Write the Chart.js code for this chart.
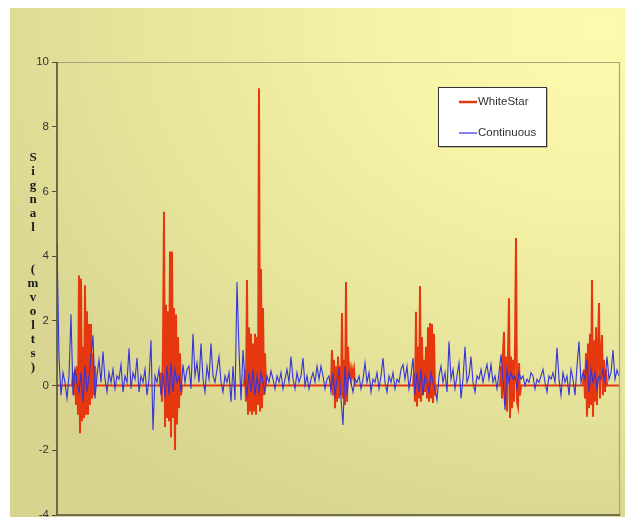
<!DOCTYPE html>
<html>
<head>
<meta charset="utf-8">
<script src="https://cdn.jsdelivr.net/npm/chart.js@4.4.1/dist/chart.umd.min.js"></script>
<style>
  html, body { margin: 0; padding: 0; background: #fff; }
  #panel {
    position: absolute; left: 10px; top: 8px; width: 615px; height: 509px;
    background: radial-gradient(ellipse 120% 110% at 96% 4%, #fdfaae 0%, #f6f3a6 30%, #e8e59c 60%, #dcd994 85%, #d8d48f 100%);
  }
  #miGrafico { position: absolute; left: 0; top: 0; }
</style>
</head>
<body>
<div id="panel"></div>
<canvas id="miGrafico" width="625" height="517"></canvas>
<script>
// Continuous: one reading every 2 time units, starting at t = 0
var continuousStep = 2;
var continuousValues = [
  4.4, 0.85, -0.3, 0.4, 0.1, -0.4, 0.3, 2.2, -0.3, 0.5, 0.1, -0.2, 0.4, -0.5, 0.6, -0.2, 0.3, 0.9, 1.55, -0.4,
  0.3, 0.8, 0.1, 1.05, 0.2, -0.2, 0.4, 0.1, 0.5, -0.1, 0.3, 0.2, 0.65, -0.2, 0.3, 0.1, 1.15, -0.1, 0.4, 0.2,
  0.85, -0.2, 0.3, 0.1, 0.5, -0.3, 0.2, 1.4, -1.37, 0.3, 0.1, 0.5, -0.3, 0.4, -0.4, 0.6, -0.3, 0.7, -0.2, 0.5,
  0.1, 0.3, -0.2, 0.65, 0.1, 0.5, 0.6, -0.1, 1.6, 0.3, 0.7, 0.1, 1.3, 0.2, -0.2, 0.6, 0.2, 1.3, 0.3, 0.1,
  0.5, 0.9, 0.1, -0.2, 0.3, 0.1, 0.4, -0.5, 0.6, -0.45, 3.2, 1.1, -0.45, 1.1, 0.2, -0.3, 0.4, -0.2, 0.5, -0.3,
  0.3, -0.2, 0.4, 0.1, -0.2, 0.3, 0.1, 0.45, 0.2, -0.1, 0.3, 0.1, 0.4, -0.1, 0.2, 0.5, 0.1, 0.9, 0.2, -0.1,
  0.4, 0.1, 0.3, 0.85, 0.0, 0.3, -0.1, 0.2, 0.4, 0.1, 0.6, 0.2, 0.6, 0.3, -0.1, 0.2, 0.3, -0.2, 0.4, -0.3,
  0.2, 0.5, -0.4, -1.22, 0.6, -0.3, 0.4, 0.1, -0.2, 0.2, 0.1, 0.3, -0.1, 0.2, 0.7, 0.1, 0.4, -0.2, 0.2, 0.1,
  0.4, -0.1, 0.3, 0.85, 0.1, -0.2, 0.3, 0.1, 0.4, -0.1, 0.2, 0.1, 0.5, 0.65, 0.2, 0.6, -0.1, 0.3, 0.85, -0.3,
  0.4, -0.2, 0.5, -0.3, 0.3, 0.1, -0.2, 0.4, 0.1, -0.1, -0.45, 0.3, 0.6, 0.1, 0.4, -0.2, 1.36, 0.2, 0.5, -0.1,
  0.3, 0.7, -0.4, 0.2, 1.2, 0.1, 0.3, 0.9, 0.1, -0.2, 0.3, 0.2, 0.5, 0.1, 0.4, 0.65, 0.2, 0.65, 0.1, 0.3,
  -0.1, 0.4, 0.97, 0.2, -0.75, 0.5, 0.1, 0.4, 0.2, 0.3, -0.1, 0.4, 0.2, 0.3, 0.0, 0.2, 0.1, 0.4, 0.3, -0.1,
  0.2, 0.1, 0.3, 0.5, 0.1, -0.2, 0.3, 0.2, 0.4, 0.1, 1.17, 0.2, -0.3, 0.4, 0.1, 0.3, -0.3, 0.5, 0.2, -0.3,
  0.6, 1.36, 0.1, 0.4, 0.2, 0.8, -0.2, 0.5, 0.1, 0.4, -0.1, 0.3, 0.2, 0.5, 0.1, 0.9, 0.2, 0.4, 1.1, 0.2,
  0.48, 0.3
];

// WhiteStar: flat at 0 except for bursts sampled every 1 time unit
var whiteStarEnd = 562;
var burstStarts = [15, 103, 187, 274, 356, 443, 526];
var burst1 = [0, 0.4, -0.3, 0.5, -0.6, 0.6, -0.9, 3.4, -1.47, 3.3, -1.1, 1.2, -1.0, 3.1, -0.9, 2.3, -0.9, 1.9, -0.6, 1.9, -0.4, 1.0, -0.3, 0.6, 0];
var burst2 = [0, 0.4, -0.5, 1.2, 5.37, -1.28, 2.5, -1.0, 2.3, -1.1, 4.14, -1.6, 4.14, -1.0, 2.4, -1.99, 2.2, -1.2, 1.5, -0.7, 1.0, -0.3, 0];
var burst3 = [0, 0.5, -0.5, 3.26, -0.9, 1.8, -0.8, 1.6, -0.9, 1.3, -0.8, 1.6, -0.9, 1.5, -0.6, 9.19, -0.8, 3.6, -0.7, 2.4, -0.3, 1.0, 0];
var burst4 = [0, 1.1, -0.3, 0.8, -0.7, 0.6, -0.5, 0.9, -0.4, 0.6, -0.3, 2.24, -0.4, 0.8, -0.6, 3.2, -0.5, 1.2, 0.2, 0.5, 0.2, 0.5, 0.3, 0.5, 0];
var burst5 = [0, 0.4, -0.5, 2.28, -0.65, 1.2, -0.4, 3.08, -0.5, 1.5, -0.3, 0.8, -0.2, 1.2, -0.4, 1.8, -0.5, 1.93, -0.4, 1.9, -0.54, 1.6, -0.3, 0];
var burst6 = [0, 0.6, -0.4, 1.0, 1.66, -0.6, 0.9, -0.8, 1.0, 2.7, -1.0, 0.9, -0.7, 0.8, -0.5, 1.2, 4.56, -0.5, -0.65, 0.7, -0.3, 0];
var burst7 = [0, 0.5, -0.4, 1.0, -0.96, 1.3, -0.7, 1.6, -0.6, 3.26, -0.96, 1.4, -0.5, 1.8, -0.6, 1.2, 2.55, -0.4, 1.0, 1.56, -0.3, 0.8, -0.2, 0.5, 0];
var bursts = [burst1, burst2, burst3, burst4, burst5, burst6, burst7];

var yTicks = [-4, -2, 0, 2, 4, 6, 8, 10];
var seriesNames = ['WhiteStar', 'Continuous'];
var yTitle = 'Signal  (mvolts)';

var continuousPoints = continuousValues.map(function (v, i) { return { x: i * continuousStep, y: v }; });
var whiteStarPoints = [{ x: 0, y: 0 }];
bursts.forEach(function (b, k) {
  b.forEach(function (v, i) { whiteStarPoints.push({ x: burstStarts[k] + i, y: v }); });
});
whiteStarPoints.push({ x: whiteStarEnd, y: 0 });

var font = "'Liberation Sans Narrow', 'Liberation Sans', Arial, sans-serif";

// frame: gray top/right border, dark left/bottom axis lines
var frame = {
  id: 'frame',
  afterDraw: function (chart) {
    var c = chart.ctx, a = chart.chartArea;
    c.save();
    c.strokeStyle = '#a3a283';
    c.lineWidth = 1.2;
    c.beginPath();
    c.moveTo(a.left, a.top + 0.5); c.lineTo(a.right + 0.5, a.top + 0.5); c.lineTo(a.right + 0.5, a.bottom);
    c.stroke();
    c.strokeStyle = '#4f4f3c';
    c.lineWidth = 1.6;
    c.beginPath();
    c.moveTo(a.left, a.top); c.lineTo(a.left, a.bottom); c.lineTo(a.right + 1, a.bottom);
    c.stroke();
    c.restore();
  }
};

// stacked letter axis title
var stackedTitle = {
  id: 'stackedTitle',
  afterDraw: function (chart) {
    var c = chart.ctx;
    c.save();
    c.fillStyle = '#1a1a1a';
    c.font = "bold 13px 'Liberation Serif', 'Times New Roman', serif";
    c.textAlign = 'center';
    c.textBaseline = 'middle';
    for (var i = 0; i < yTitle.length; i++) {
      c.fillText(yTitle[i], 33, 158 + i * 14);
    }
    c.restore();
  }
};

// boxed legend inside the plot
var boxLegend = {
  id: 'boxLegend',
  afterDraw: function (chart) {
    var c = chart.ctx;
    var x = 438, y = 87, w = 108, h = 59;
    c.save();
    c.fillStyle = '#8a896a';
    c.fillRect(x + 1.5, y + 1.5, w, h);
    c.fillStyle = '#ffffff';
    c.fillRect(x, y, w, h);
    c.strokeStyle = '#333333';
    c.lineWidth = 1;
    c.strokeRect(x + 0.5, y + 0.5, w, h);
    c.font = '11.5px ' + font;
    c.textBaseline = 'middle';
    chart.data.datasets.forEach(function (ds, i) {
      var ly = i === 0 ? 102 : 133;
      c.strokeStyle = ds.borderColor;
      c.lineWidth = i === 0 ? 2.5 : 1.2;
      c.beginPath();
      c.moveTo(459, ly); c.lineTo(477, ly);
      c.stroke();
      c.fillStyle = '#333333';
      c.fillText(ds.label, 478, ly);
    });
    c.restore();
  }
};

var ctx = document.getElementById('miGrafico').getContext('2d');

var data = {
  datasets: [{
    label: seriesNames[0],
    data: whiteStarPoints,
    borderColor: '#e6380f',
    borderWidth: 2,
    pointRadius: 0,
    tension: 0,
    order: 1
  }, {
    label: seriesNames[1],
    data: continuousPoints,
    borderColor: '#3434dc',
    borderWidth: 1.1,
    pointRadius: 0,
    tension: 0,
    order: 0
  }]
};

var options = {
  responsive: false,
  animation: false,
  layout: { padding: { left: 0, top: 62, right: 6, bottom: 2 } },
  plugins: { legend: { display: false }, tooltip: { enabled: false } },
  scales: {
    x: { type: 'linear', min: 0, max: whiteStarEnd, display: false },
    y: {
      min: yTicks[0],
      max: yTicks[yTicks.length - 1],
      afterFit: function (s) { s.width = 57; s.paddingTop = 0; s.paddingBottom = 0; },
      afterBuildTicks: function (s) { s.ticks = yTicks.map(function (v) { return { value: v }; }); },
      border: { display: false },
      grid: { drawOnChartArea: false, tickLength: 5, color: '#4f4f3c', lineWidth: 1 },
      ticks: { color: '#333333', padding: 3, font: { size: 11.5, family: font } }
    }
  }
};

var miGrafico = new Chart(ctx, {
  type: 'line',
  data: data,
  options: options,
  plugins: [frame, stackedTitle, boxLegend]
});
</script>
</body>
</html>
